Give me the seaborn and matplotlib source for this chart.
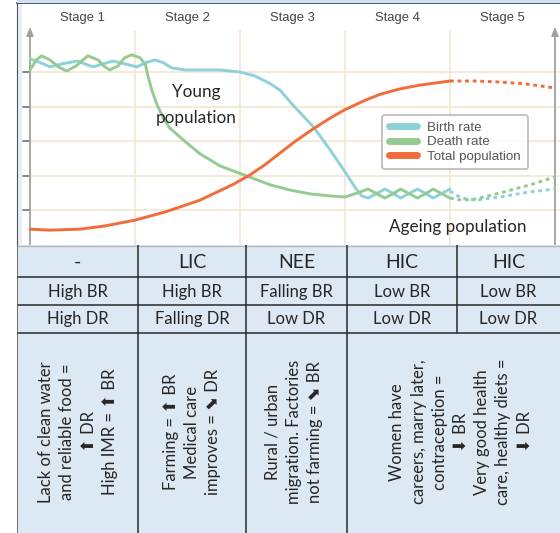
import matplotlib
matplotlib.use('Agg')
import numpy as np
import pandas as pd
import matplotlib.pyplot as plt
from matplotlib.patches import Rectangle
import seaborn as sns

# chart data (time in arbitrary units, 100 per stage; rates on a 0-70 scale)
stages = ['Stage 1', 'Stage 2', 'Stage 3', 'Stage 4', 'Stage 5']
stage_edges = [0, 100, 200, 300, 400, 500]

birth_t = [0, 10, 19, 31, 45, 52, 60, 70, 79, 90, 102, 110, 119, 127, 135,
           148, 162, 181, 200, 214, 229, 238, 252, 270, 286, 300, 310, 316,
           322, 330, 338, 346, 353, 361, 369, 377, 384, 392, 400]
birth_rate = [53.9, 52.8, 51.6, 52.5, 53.3, 52.5, 51.6, 52.5, 53.3, 52.5,
              51.6, 52.8, 53.6, 52.8, 51.3, 50.7, 50.7, 50.7, 50.1, 49.0,
              46.7, 44.9, 40.0, 34.2, 27.5, 21.2, 16.5, 14.2, 13.6, 14.9,
              16.2, 14.9, 13.6, 14.9, 16.2, 14.9, 13.6, 14.9, 16.2]
birth_proj_t = [400, 411, 424, 448, 476, 500]
birth_proj = [15.6, 13.6, 13.0, 13.9, 15.4, 16.2]

death_t = [0, 6, 11, 19, 27, 35, 44, 55, 65, 70, 76, 84, 90, 97, 105, 110,
           112, 116, 121, 127, 133, 148, 162, 181, 209, 229, 248, 267, 286,
           300, 312, 322, 330, 338, 346, 353, 361, 369, 377, 384, 392, 400]
death_rate = [50.7, 53.6, 54.8, 53.6, 51.6, 50.4, 51.9, 54.8, 53.6, 51.9,
              50.7, 51.9, 54.2, 55.1, 54.2, 52.2, 49.3, 44.9, 40.6, 36.8,
              33.9, 29.9, 26.4, 22.9, 19.7, 17.4, 15.9, 14.8, 14.2, 13.9,
              15.1, 16.2, 14.9, 13.6, 14.9, 16.2, 14.9, 13.6, 14.9, 16.2,
              14.9, 13.6]
death_proj_t = [400, 411, 424, 448, 476, 500]
death_proj = [13.6, 13.0, 13.3, 15.1, 17.4, 19.7]

pop_t = [0, 19, 48, 71, 100, 129, 162, 193, 209, 224, 238, 252, 270, 286,
         300, 319, 333, 352, 371, 400]
pop = [4.6, 4.3, 4.6, 5.5, 7.2, 9.6, 13.0, 17.5, 20.2, 23.3, 26.6, 29.9,
       33.7, 36.8, 39.2, 41.9, 43.6, 45.2, 46.3, 47.5]
pop_proj_t = [400, 424, 448, 471, 500]
pop_proj = [47.5, 47.5, 47.2, 46.7, 45.5]

# table data
income = ['-', 'LIC', 'NEE', 'HIC', 'HIC']
birth_row = ['High BR', 'High BR', 'Falling BR', 'Low BR', 'Low BR']
death_row = ['High DR', 'Falling DR', 'Low DR', 'Low DR', 'Low DR']
reasons = ['Lack of clean water\nand reliable food =\n\u2b06 DR\nHigh IMR = \u2b06 BR',
           'Farming = \u2b06 BR\nMedical care\nimproves = \u2b0a DR',
           'Rural / urban\nmigration. Factories\nnot farming = \u2b0a BR',
           'Women have\ncareers, marry later,\ncontraception =\n\u2b07 BR\n'
           'Very good health\ncare, healthy diets =\n\u2b07 DR']

# styles
c_birth = '#8fd1d9'
c_death = '#95cb92'
c_pop = '#f26b3a'
grid_c = '#f4e6cf'
axis_c = '#a0a0a0'
cell_c = '#dde8f5'
line_c = '#2a2a2a'
W, H = 560, 533

sns.set_style('white')
plt.rcParams['font.family'] = ['Lato', 'DejaVu Sans']

series = []
for name, t, v, phase in [('Birth rate', birth_t, birth_rate, 'solid'),
                          ('Birth rate', birth_proj_t, birth_proj, 'proj'),
                          ('Death rate', death_t, death_rate, 'solid'),
                          ('Death rate', death_proj_t, death_proj, 'proj'),
                          ('Total population', pop_t, pop, 'solid'),
                          ('Total population', pop_proj_t, pop_proj, 'proj')]:
    series.append(pd.DataFrame({'series': name, 'phase': phase,
                                'time': t, 'value': v}))
df = pd.concat(series, ignore_index=True)
colors = {'Birth rate': c_birth, 'Death rate': c_death,
          'Total population': c_pop}

fig = plt.figure(figsize=(W / 100, H / 100), dpi=100)
ax = fig.add_axes([17 / W, 288 / H, (W - 17) / W, 242 / H])
ax.set_xlim(-12.4, 504.8)
ax.set_ylim(0, 70.1)

# grid
for y in [10, 20, 30, 40, 50]:
    ax.plot([-8, 504.8], [y, y], color=grid_c, lw=1.2, zorder=0)
    ax.plot([-7, 0], [y, y], color='#777777', lw=1.2, zorder=1)
ax.vlines(stage_edges[1:-1], 0, 62.3, color=grid_c, lw=1.2, zorder=0)
for x in [stage_edges[0], stage_edges[-1]]:
    ax.annotate('', xy=(x, 63.2), xytext=(x, 0),
                arrowprops=dict(arrowstyle='-|>,head_length=0.5,head_width=0.2',
                                color=axis_c, lw=1.3, shrinkA=0, shrinkB=0))

for (name, phase), sub in df.groupby(['series', 'phase'], sort=False):
    kw = dict(lw=2.1, color=colors[name])
    if phase == 'proj':
        kw['linestyle'] = (0, (1.3, 1.3))
    else:
        kw['label'] = name
    sns.lineplot(data=sub, x='time', y='value', sort=False, estimator=None,
                 ax=ax, zorder=3, **kw)

for s, x0, x1 in zip(stages, stage_edges[:-1], stage_edges[1:]):
    ax.text((x0 + x1) / 2, 65.8, s, ha='center', va='center', fontsize=9.4,
            color='#444444', family=['Liberation Sans'])

ax.text(158, 44.3, 'Young', ha='center', va='center', fontsize=12.3)
ax.text(158, 36.8, 'population', ha='center', va='center', fontsize=12.3)
ax.text(407, 5.2, 'Ageing population', ha='center', va='center',
        fontsize=12.3)

leg = ax.legend(loc='upper left', bbox_to_anchor=(0.672, 0.537),
                borderaxespad=0, frameon=True, fancybox=True, shadow=False,
                edgecolor='#b0b0b0', handlelength=2.1,
                labelspacing=0.15, handletextpad=0.8, borderpad=0.5,
                prop={'family': 'Liberation Sans', 'size': 9.6})
for line in leg.get_lines():
    line.set_linewidth(5)
for txt in leg.get_texts():
    txt.set_color('#555555')
leg.get_frame().set_linewidth(1.3)

ax.set_xlabel('')
ax.set_ylabel('')
ax.set_xticks([])
ax.set_yticks([])
for side in ['right', 'bottom']:
    ax.spines[side].set_visible(False)
ax.spines['left'].set_color('#555555')
ax.spines['top'].set_color('#2e3f55')
ax.spines['top'].set_linewidth(1.2)
ax.axvspan(-12.4, -8, color='#e8eef7', zorder=0, lw=0)

# top band
fig.patches.append(Rectangle((17 / W, 1 - 3 / H), (W - 17) / W, 3 / H,
                             transform=fig.transFigure, facecolor='#cfe0f2',
                             edgecolor='none'))

# table
tax = fig.add_axes([17 / W, 0, (W - 17) / W, 288 / H])
tax.set_xlim(17, 560)
tax.set_ylim(533, 245)
tax.axis('off')
col_x = [17, 138, 246, 347, 457, 560]
row_y = [245, 277, 305, 333, 533]
tax.add_patch(Rectangle((17, 245), 543, 288, facecolor=cell_c,
                        edgecolor='none'))
for y in row_y[1:-1]:
    tax.plot([17, 560], [y, y], color=line_c, lw=1.1)
tax.plot([17, 560], [245.5, 245.5], color='#b8b8b8', lw=1)
tax.plot([17.5, 17.5], [245, 533], color='#555555', lw=1.2)
for x in col_x[1:4]:
    tax.plot([x, x], [245, 533], color=line_c, lw=1.1)
tax.plot([457, 457], [245, 333], color=line_c, lw=1.1)

centers = [(a + b) / 2 for a, b in zip(col_x[:-1], col_x[1:])]
for cx, a, b, d in zip(centers, income, birth_row, death_row):
    tax.text(cx, 262, a, ha='center', va='center', fontsize=14)
    tax.text(cx, 292, b, ha='center', va='center', fontsize=12)
    tax.text(cx, 319, d, ha='center', va='center', fontsize=12)

reason_x = [78, 192, 294, 461]
for rx, r in zip(reason_x, reasons):
    tax.text(rx, 432, r, ha='center', va='center', rotation=90,
             multialignment='center', fontsize=12, linespacing=1.4)

fig.savefig('out.png', dpi=100)
